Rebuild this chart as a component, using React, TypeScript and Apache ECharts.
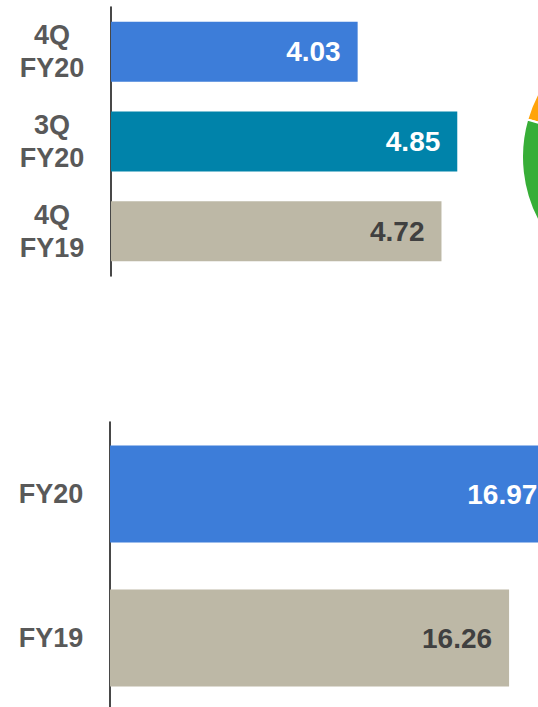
import React, { useEffect, useRef } from "react";
import * as echarts from "echarts";

const quarterCategories = ["4Q\nFY20", "3Q\nFY20", "4Q\nFY19"];
const quarterValues = [4.03, 4.85, 4.72];
const quarterColors = ["#3D7DD9", "#0083AA", "#BDB8A6"];
const quarterLabelColors = ["#FFFFFF", "#FFFFFF", "#404040"];

const yearCategories = ["FY20", "FY19"];
const yearValues = [16.97, 16.26];
const yearColors = ["#3D7DD9", "#BDB8A6"];
const yearLabelColors = ["#FFFFFF", "#404040"];

const pieNames = ["Segment A", "Segment B"];
const pieValues = [22, 78];
const pieColors = ["#FFA40A", "#37AE37"];

const FONT = "'Liberation Sans', Arial, sans-serif";

export default function App() {
  const ref = useRef<HTMLDivElement>(null);
  useEffect(() => {
    if (!ref.current) return;
    const chart = echarts.init(ref.current, null, { renderer: "svg" });
    const catAxis = (gridIndex: number, data: string[]) => ({
      type: "category",
      gridIndex,
      data,
      inverse: true,
      axisLine: { show: true, lineStyle: { color: "#1a1a1a", width: 1.6 } },
      axisTick: { show: false },
      splitLine: { show: false },
      axisLabel: {
        margin: 59,
        align: "center",
        color: "#595959",
        fontWeight: "bold",
        fontSize: 27,
        lineHeight: 33,
        fontFamily: FONT,
      },
    });
    chart.setOption({
      animation: false,
      grid: [
        { left: 111, top: 7, height: 269, width: 486, outerBoundsMode: "none", containLabel: false },
        { left: 110, top: 422, height: 288, width: 510, outerBoundsMode: "none", containLabel: false },
      ],
      xAxis: [
        { type: "value", gridIndex: 0, min: 2, max: 6, show: false },
        { type: "value", gridIndex: 1, min: 10, max: 18, show: false },
      ],
      yAxis: [catAxis(0, quarterCategories), catAxis(1, yearCategories)],
      series: [
        {
          type: "bar",
          xAxisIndex: 0,
          yAxisIndex: 0,
          barWidth: 60,
          data: quarterValues.map((v, i) => ({
            value: v,
            itemStyle: { color: quarterColors[i] },
            label: { color: quarterLabelColors[i] },
          })),
          label: {
            show: true,
            position: "insideRight",
            distance: 17,
            fontSize: 28,
            fontWeight: "bold",
            fontFamily: FONT,
            formatter: (p: any) => p.value.toFixed(2),
          },
        },
        {
          type: "bar",
          xAxisIndex: 1,
          yAxisIndex: 1,
          barWidth: 97,
          data: yearValues.map((v, i) => ({
            value: v,
            itemStyle: { color: yearColors[i] },
            label: { color: yearLabelColors[i] },
          })),
          label: {
            show: true,
            position: "insideRight",
            distance: 17,
            fontSize: 28,
            fontWeight: "bold",
            fontFamily: FONT,
            formatter: (p: any) => p.value.toFixed(2),
          },
        },
        {
          type: "pie",
          center: [658, 157],
          radius: 136,
          startAngle: 164,
          silent: true,
          label: { show: false },
          labelLine: { show: false },
          itemStyle: { borderColor: "#FFFFFF", borderWidth: 2 },
          data: pieValues.map((v, i) => ({
            name: pieNames[i],
            value: v,
            itemStyle: { color: pieColors[i] },
          })),
        },
      ],
    });
    return () => chart.dispose();
  }, []);
  return (
    <div
      ref={ref}
      style={{ position: "fixed", left: 0, top: 0, width: 538, height: 707, background: "#fff" }}
    />
  );
}
